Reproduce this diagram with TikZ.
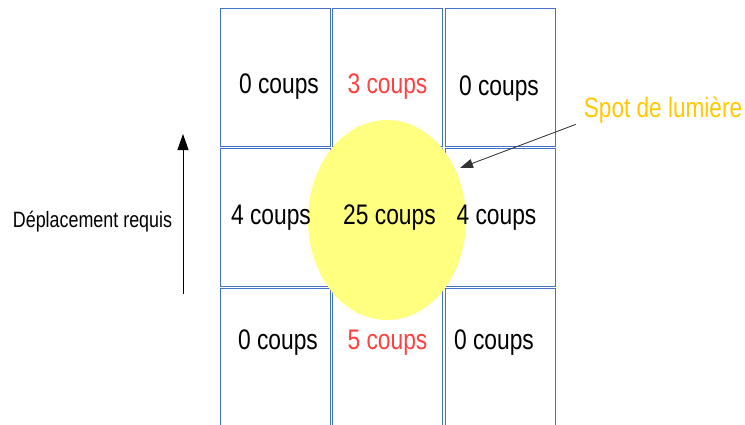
\documentclass[tikz,border=0pt]{standalone}
\usepackage{fontspec}
\setmainfont{Liberation Sans}
\usepackage{graphicx}
\usepackage{tikz}
\usetikzlibrary{arrows.meta,positioning,shapes.geometric}
\usepackage{xcolor}
\definecolor{cellblue}{RGB}{68,114,196}
\definecolor{spotyellow}{RGB}{255,255,128}
\definecolor{spotgold}{RGB}{255,200,0}
\definecolor{hitred}{RGB}{255,64,64}
\newcommand{\tallText}[1]{\scalebox{1}[1.24]{#1}}

\begin{document}
\begin{tikzpicture}[
  x=1pt, y=-1pt,
  node distance=2.5pt and 2.5pt,
  cell/.style={draw=cellblue,line width=0.9pt,rectangle,minimum width=110pt,
               minimum height=137.5pt,inner sep=0pt,outer sep=0pt},
  hits/.style={font=\fontsize{22.8}{27}\selectfont,inner sep=0pt},
  hot/.style={hits,text=hitred},
  spot/.style={ellipse,fill=spotyellow,minimum width=158pt,minimum height=200pt,inner sep=0pt},
  arr/.style={-{Triangle[length=16pt,width=11pt]},line width=0.9pt},
  thinarr/.style={-{Triangle[length=13pt,width=9pt]},line width=0.8pt,draw=black!80,fill=black!80}
]
\useasboundingbox (0,0) rectangle (745,424);

% Grid of cells
\node[cell] (c11) at (275,77.25) {};
\node[cell, right=of c11] (c12) {};
\node[cell, right=of c12] (c13) {};
\node[cell, below=of c11] (c21) {};
\node[cell, right=of c21] (c22) {};
\node[cell, right=of c22] (c23) {};
\node[cell, below=of c21] (c31) {};
\node[cell, right=of c31] (c32) {};
\node[cell, right=of c32] (c33) {};

% Light spot
\node[spot] (spot) at (387,220) {};

% Hit counts
\node[hits] (n11) at (279,87) {\tallText{0 coups}};
\node[hot]  (n12) at (387.5,87) {\tallText{3 coups}};
\node[hits] (n13) at (499,89) {\tallText{0 coups}};
\node[hits] (n21) at (271,218) {\tallText{4 coups}};
\node[hits] (n22) at (389.5,218) {\tallText{25 coups}};
\node[hits] (n23) at (496.5,218) {\tallText{4 coups}};
\node[hits] (n31) at (278,343) {\tallText{0 coups}};
\node[hot]  (n32) at (387.5,343) {\tallText{5 coups}};
\node[hits] (n33) at (494,343) {\tallText{0 coups}};

% Required movement
\node[font=\fontsize{17.9}{21}\selectfont,inner sep=0pt] (move) at (92.5,222) {\tallText{Déplacement requis}};
\coordinate (moveFrom) at (183,294);
\coordinate (moveTo) at (183,134);
\draw[arr] (moveFrom) -- (moveTo);

% Spot label
\node[font=\fontsize{22.6}{27}\selectfont,text=spotgold,inner sep=0pt] (spotlbl) at (663,110) {\tallText{Spot de lumière}};
\coordinate (spotTip) at (460,168);
\draw[thinarr] ([xshift=-8pt,yshift=-1pt]spotlbl.south west) -- (spotTip);

\end{tikzpicture}
\end{document}
